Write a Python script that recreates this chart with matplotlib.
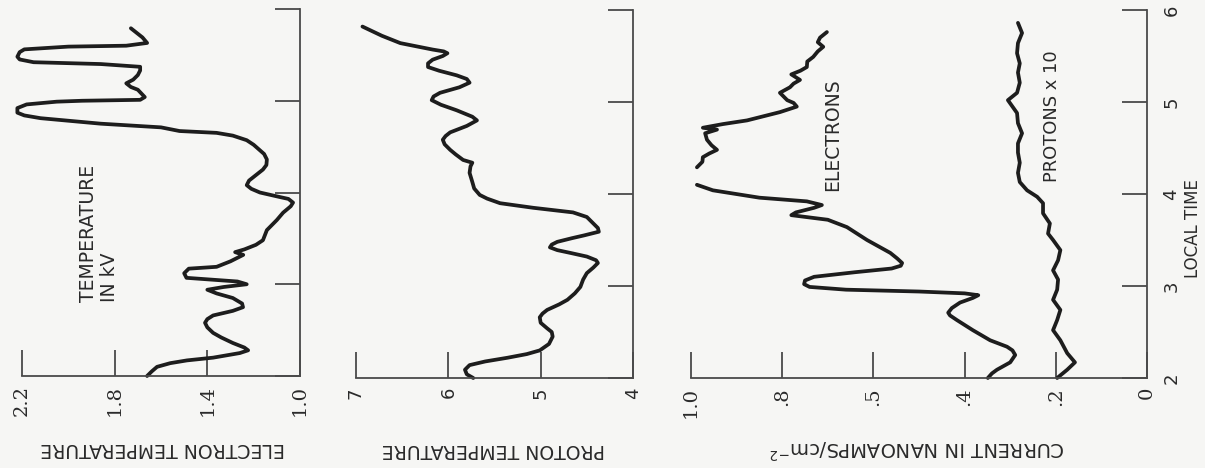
import numpy as np
import matplotlib
matplotlib.use('Agg')
import matplotlib.pyplot as plt

# ---- data (local time in hours, value on the panel's scale) ----
te_time = [2.00, 2.05, 2.10, 2.14, 2.17, 2.20, 2.25, 2.28, 2.31, 2.36, 2.42, 2.47,
           2.53, 2.58, 2.62, 2.66, 2.71, 2.75, 2.79, 2.85, 2.90, 2.94, 2.97, 3.00,
           3.03, 3.07, 3.12, 3.17, 3.19, 3.25, 3.32, 3.35, 3.38, 3.43, 3.48, 3.59,
           3.70, 3.78, 3.85, 3.89, 3.93, 3.95, 4.00, 4.04, 4.08, 4.13, 4.17, 4.25,
           4.30, 4.36, 4.42, 4.46, 4.52, 4.57, 4.62, 4.65, 4.67, 4.71, 4.75, 4.81,
           4.84, 4.87, 4.92, 4.96, 4.99, 5.00, 5.01, 5.04, 5.12, 5.15, 5.19, 5.23,
           5.28, 5.33, 5.37, 5.40, 5.42, 5.45, 5.48, 5.53, 5.56, 5.59, 5.60, 5.63,
           5.69, 5.79]
te_kv = [1.66, 1.64, 1.617, 1.56, 1.488, 1.375, 1.26, 1.224, 1.24, 1.29, 1.34, 1.375,
         1.40, 1.41, 1.40, 1.375, 1.29, 1.246, 1.25, 1.29, 1.36, 1.40, 1.33, 1.23,
         1.27, 1.49, 1.50, 1.48, 1.36, 1.30, 1.245, 1.28, 1.24, 1.19, 1.16, 1.143,
         1.10, 1.073, 1.04, 1.03, 1.05, 1.086, 1.173, 1.21, 1.23, 1.22, 1.20, 1.16,
         1.145, 1.143, 1.155, 1.173, 1.20, 1.23, 1.29, 1.36, 1.52, 1.60, 1.86, 2.12,
         2.19, 2.22, 2.22, 2.18, 2.05, 1.94, 1.69, 1.67, 1.70, 1.73, 1.75, 1.72,
         1.70, 1.69, 1.69, 1.86, 2.15, 2.21, 2.22, 2.21, 2.19, 2.00, 1.75, 1.66,
         1.68, 1.73]

tp_time = [2.00, 2.04, 2.09, 2.14, 2.18, 2.22, 2.26, 2.30, 2.37, 2.45, 2.50, 2.54,
           2.60, 2.66, 2.70, 2.74, 2.80, 2.85, 2.92, 2.99, 3.07, 3.14, 3.20, 3.25,
           3.28, 3.32, 3.36, 3.39, 3.42, 3.45, 3.48, 3.52, 3.55, 3.59, 3.63, 3.70,
           3.75, 3.80, 3.85, 3.90, 3.95, 3.99, 4.06, 4.13, 4.23, 4.30, 4.34, 4.37,
           4.43, 4.48, 4.54, 4.59, 4.63, 4.67, 4.74, 4.80, 4.84, 4.91, 4.97, 5.02,
           5.06, 5.10, 5.16, 5.21, 5.25, 5.29, 5.34, 5.38, 5.42, 5.46, 5.50, 5.53,
           5.55, 5.57, 5.60, 5.64, 5.72, 5.82]
tp_val = [5.73, 5.80, 5.82, 5.77, 5.60, 5.36, 5.15, 5.01, 4.91, 4.87, 4.88, 4.93,
          5.00, 5.01, 4.98, 4.93, 4.80, 4.71, 4.63, 4.57, 4.54, 4.50, 4.43, 4.38,
          4.40, 4.50, 4.68, 4.82, 4.90, 4.88, 4.82, 4.66, 4.53, 4.37, 4.38, 4.45,
          4.50, 4.65, 5.08, 5.44, 5.58, 5.66, 5.72, 5.74, 5.77, 5.76, 5.74, 5.84,
          5.92, 5.98, 6.04, 6.06, 6.03, 5.98, 5.80, 5.69, 5.74, 5.91, 6.08, 6.18,
          6.16, 6.09, 5.88, 5.77, 5.80, 5.91, 6.10, 6.22, 6.22, 6.17, 6.06, 6.01,
          6.05, 6.17, 6.32, 6.52, 6.72, 6.93]

# electron current has a break in the trace between 4.1 and 4.3 h
el_time = [2.00, 2.05, 2.09, 2.17, 2.25, 2.30, 2.34, 2.41, 2.52, 2.63, 2.68, 2.71,
           2.76, 2.82, 2.87, 2.90, 2.92, 2.94, 2.96, 2.99, 3.02, 3.06, 3.10, 3.15,
           3.19, 3.22, 3.25, 3.30, 3.36, 3.50, 3.64, 3.72, 3.77, 3.80, 3.85, 3.88,
           3.92, 3.96, 4.04, 4.10, np.nan, 4.29, 4.35, 4.40, 4.44, 4.48, 4.53, 4.59,
           4.66, 4.70, 4.72, 4.76, 4.80, 4.89, 4.95, 4.99, 5.02, 5.10, 5.16, 5.20,
           5.24, 5.30, 5.34, 5.38, 5.44, 5.49, 5.55, 5.60, 5.65, 5.70, 5.76]
el_cur = [0.349, 0.34, 0.329, 0.30, 0.289, 0.295, 0.307, 0.344, 0.382, 0.417, 0.432, 0.436,
          0.428, 0.41, 0.382, 0.37, 0.40, 0.50, 0.66, 0.74, 0.752, 0.75, 0.73, 0.64,
          0.56, 0.54, 0.537, 0.548, 0.563, 0.614, 0.658, 0.70, 0.78, 0.77, 0.73, 0.713,
          0.746, 0.85, 0.952, 0.987, np.nan, 0.987, 0.975, 0.974, 0.96, 0.943, 0.955, 0.965,
          0.969, 0.943, 0.974, 0.93, 0.877, 0.805, 0.768, 0.775, 0.789, 0.805, 0.783, 0.775,
          0.761, 0.78, 0.76, 0.746, 0.745, 0.732, 0.722, 0.71, 0.722, 0.717, 0.702]

pr_time = [2.00, 2.09, 2.17, 2.27, 2.41, 2.52, 2.63, 2.74, 2.85, 2.96, 3.07, 3.17,
           3.28, 3.39, 3.50, 3.57, 3.68, 3.79, 3.90, 3.97, 4.04, 4.13, 4.23, 4.34,
           4.45, 4.55, 4.66, 4.77, 4.88, 5.02, 5.10, 5.21, 5.32, 5.42, 5.53, 5.64,
           5.75, 5.86]
pr_cur = [0.197, 0.175, 0.158, 0.175, 0.19, 0.206, 0.197, 0.19, 0.206, 0.197, 0.195, 0.206,
          0.195, 0.19, 0.206, 0.217, 0.213, 0.228, 0.228, 0.241, 0.263, 0.279, 0.283, 0.279,
          0.283, 0.283, 0.274, 0.283, 0.285, 0.305, 0.285, 0.279, 0.283, 0.279, 0.285, 0.283,
          0.274, 0.283]

time_ticks = [2, 3, 4, 5, 6]
time_labels = ['2', '3', '4', '5', '6']
te_ticks = [2.2, 1.8, 1.4, 1.0]
te_labels = ['2.2', '1.8', '1.4', '1.0']
tp_ticks = [7, 6, 5, 4]
tp_labels = ['7', '6', '5', '4']
cur_ticks = [1.0, 0.8, 0.6, 0.4, 0.2, 0.0]
cur_labels = ['1.0', '.8', '.5', '.4', '.2', '0']

INK = '#1d1d1d'
AXC = '#4a4a4a'
W, H = 1205, 468


def px_axes(fig, x0, x1, ytop, ybot):
    # axes box given in pixel coords of the (rotated) page
    return fig.add_axes([x0 / W, 1 - ybot / H, (x1 - x0) / W, (ybot - ytop) / H])


def style_panel(ax, xlim, ticks, labels, family, show_time):
    ax.set_xlim(*xlim)
    ax.set_ylim(2, 6)
    ax.patch.set_alpha(0)
    for side in ('top', 'left'):
        ax.spines[side].set_visible(False)
    for side in ('bottom', 'right'):
        ax.spines[side].set_color(AXC)
        ax.spines[side].set_linewidth(1.3)
    ax.set_xticks(ticks)
    ax.set_xticklabels(labels, rotation=90, family=family, fontsize=14 if family == 'DejaVu Serif' else 13,
                       color='#2a2a2a')
    ax.tick_params(axis='x', direction='in', length=19, width=1.3, color=AXC, pad=6.5)
    ax.yaxis.tick_right()
    ax.set_yticks(time_ticks)
    ax.tick_params(axis='y', direction='in', length=18, width=1.3, color=AXC,
                   labelright=show_time, pad=11)
    if show_time:
        ax.set_yticklabels(time_labels, rotation=90, fontsize=13, color='#2a2a2a', va='center')


fig = plt.figure(figsize=(W / 100, H / 100), dpi=100, facecolor='#f6f6f4')

ax1 = px_axes(fig, 22, 300, 9, 376)
ax2 = px_axes(fig, 356, 633, 10, 378)
ax3 = px_axes(fig, 691, 1147, 10, 378)

style_panel(ax1, (2.2, 1.0), te_ticks, te_labels, 'DejaVu Serif', False)
style_panel(ax2, (7, 4), tp_ticks, tp_labels, 'DejaVu Sans', False)
style_panel(ax3, (1.0, 0.0), cur_ticks, cur_labels, 'DejaVu Serif', True)

line_kw = dict(color=INK, lw=2.7, solid_joinstyle='round', solid_capstyle='round', clip_on=False)
ax1.plot(te_kv, te_time, **line_kw)
ax2.plot(tp_val, tp_time, **line_kw)
ax3.plot(el_cur, el_time, **line_kw)
ax3.plot(pr_cur, pr_time, **line_kw)

# annotations inside the panels (page is turned, so text runs upward)
ax1.text(1.868, 2.81, 'TEMPERATURE\nIN kV', rotation=90, ha='center', va='bottom',
         multialignment='left', fontsize=13.5, linespacing=1.1, color='#2a2a2a')
ax3.text(0.689, 4.65, 'ELECTRONS', rotation=90, ha='center', va='center',
         fontsize=13.5, color='#2a2a2a')
ax3.text(0.208, 4.85, 'PROTONS x 10', rotation=90, ha='center', va='center',
         fontsize=12.9, color='#2a2a2a')
ax3.text(1.101, 3.62, 'LOCAL TIME', rotation=90, ha='center', va='center',
         fontsize=12, color='#2a2a2a', transform=ax3.get_yaxis_transform())

# former y-axis titles, upside down after the page rotation
fig.text(163 / W, 1 - 448 / H, 'ELECTRON TEMPERATURE', rotation=180, ha='center', va='center',
         fontsize=13.6, color='#2a2a2a')
fig.text(493 / W, 1 - 449 / H, 'PROTON TEMPERATURE', rotation=180, ha='center', va='center',
         fontsize=13.6, color='#2a2a2a')
fig.text(917 / W, 1 - 449 / H, r'CURRENT IN NANOAMPS/cm$^{-2}$', rotation=180, ha='center',
         va='center', fontsize=14, color='#2a2a2a')

fig.savefig('out.png', dpi=100, facecolor=fig.get_facecolor())
